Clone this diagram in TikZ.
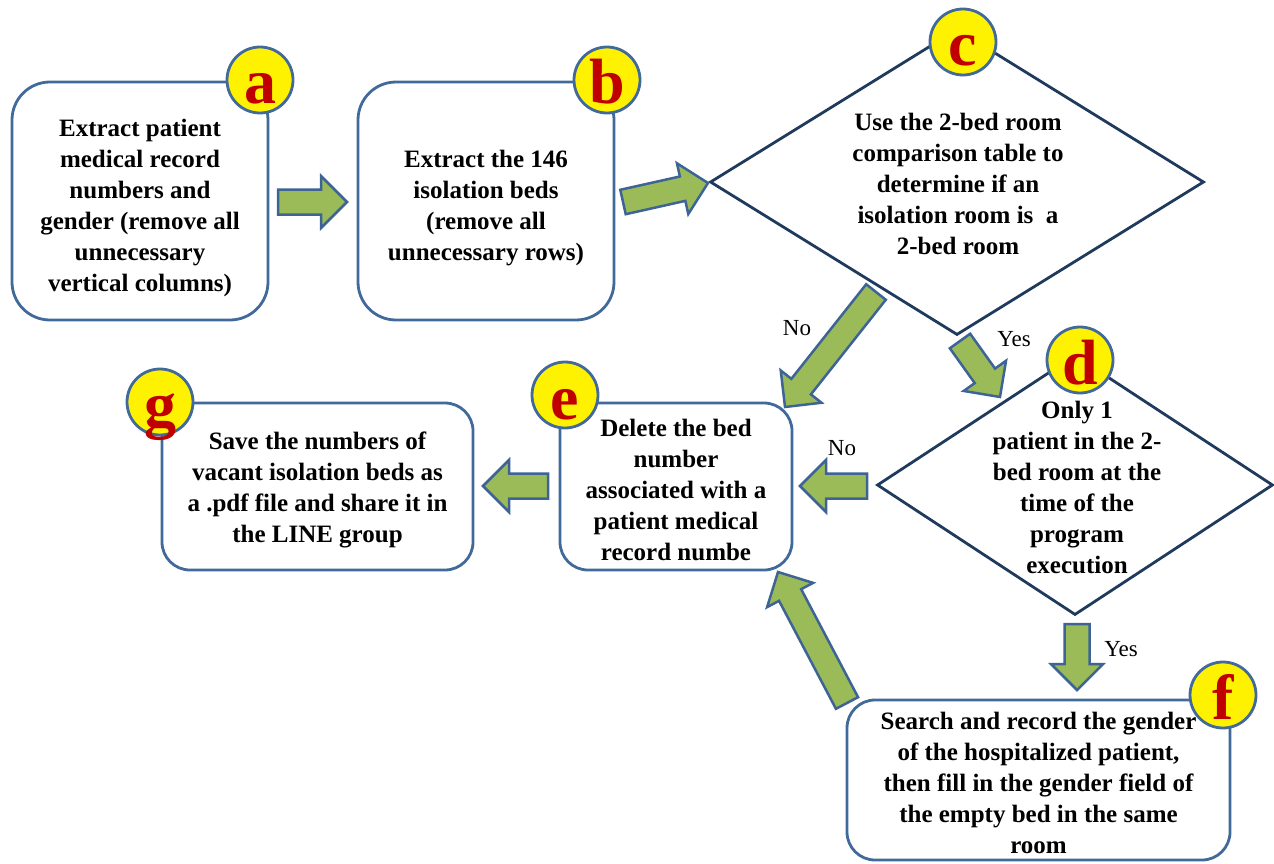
\documentclass[tikz,border=0pt]{standalone}
\usepackage{fontspec}
\setmainfont{Liberation Serif}
\usetikzlibrary{calc,shapes.geometric}

\definecolor{boxblue}{HTML}{41699A}
\definecolor{navy}{HTML}{1F3A5C}
\definecolor{arrowgreen}{HTML}{9BBB59}
\definecolor{arrowedge}{HTML}{3D6494}
\definecolor{badgered}{HTML}{C00000}

% Wide green block arrow from tail #1 to tip #2
\newcommand\blockarrow[2]{%
  \coordinate (ba-h) at ($(#2)!26pt!(#1)$);
  \draw[barrow]
    ($(#1)!12.5pt!90:(#2)$) -- ($(ba-h)!12.5pt!90:(#2)$) --
    ($(ba-h)!26pt!90:(#2)$) -- (#2) --
    ($(ba-h)!26pt!-90:(#2)$) -- ($(ba-h)!12.5pt!-90:(#2)$) --
    ($(#1)!12.5pt!-90:(#2)$) -- cycle;
}

\begin{document}
\begin{tikzpicture}[x=1pt,y=-1pt,
  txt/.style={align=center, inner sep=0pt, font=\bfseries\fontsize{25}{31}\selectfont},
  stepbox/.style={draw=boxblue, line width=2.8pt, fill=white, rounded corners=38pt, inner sep=0pt},
  smallbox/.style={stepbox, rounded corners=28pt},
  decision/.style={diamond, draw=navy, line width=2.8pt, fill=white, inner sep=0pt},
  badge/.style={circle, draw=boxblue, fill=yellow, line width=2.8pt, minimum size=66pt, inner sep=0pt},
  badgeletter/.style={anchor=base, inner sep=0pt, text=badgered, font=\bfseries\fontsize{64}{64}\selectfont},
  barrow/.style={draw=arrowedge, fill=arrowgreen, line width=2.5pt, line join=miter},
  answer/.style={inner sep=0pt, font=\fontsize{23}{27}\selectfont}]

\useasboundingbox (0,0) rectangle (1274,864);

% process boxes
\node[stepbox, minimum width=256pt, minimum height=238pt] (a) at (140,201) {};
\node[stepbox, minimum width=256pt, minimum height=238pt] (b) at (486,201) {};
\node[smallbox, minimum width=232pt, minimum height=167pt] (e) at (676,486.5) {};
\node[smallbox, minimum width=311pt, minimum height=167pt] (g) at (317.5,486.5) {};
\node[smallbox, minimum width=383pt, minimum height=160pt] (f) at (1038.5,780) {};

% box captions
\node[txt] (at) at ($(a.center)+(0,7)$)
  {Extract patient\\medical record\\numbers and\\gender (remove all\\unnecessary\\vertical columns)};
\node[txt] (bt) at ($(b.center)+(0,7)$)
  {Extract the 146\\isolation beds\\(remove all\\unnecessary rows)};
\node[txt] (et) at ($(e.center)+(0,3)$)
  {Delete the bed\\number\\associated with a\\patient medical\\record numbe};
\node[txt] (gt) at ($(g.center)+(0,3)$)
  {Save the numbers of\\vacant isolation beds as\\a .pdf file and share it in\\the LINE group};
\node[txt] (ft) at ($(f.center)+(0,3)$)
  {Search and record the gender\\of the hospitalized patient,\\then fill in the gender field of\\the empty bed in the same\\room};

% decisions
\node[decision, minimum width=494pt, minimum height=306pt] (c) at (957,182) {};
\node[txt] (ct) at (958,184)
  {Use the 2-bed room\\comparison table to\\determine if an\\isolation room is\ \ a\\2-bed room};
\node[decision, minimum width=396pt, minimum height=260pt] (d) at (1075,485) {};
\node[txt] (dt) at (1077,487)
  {Only 1\\patient in the 2-\\bed room at the\\time of the\\program\\execution};

% arrow end points
\coordinate (ab-t) at (278,202);  \coordinate (ab-p) at (347,202);
\coordinate (bc-t) at (623,202);  \coordinate (bc-p) at (708,183);
\coordinate (ce-t) at (876,292);  \coordinate (ce-p) at (785,407);
\coordinate (cd-t) at (960,341);  \coordinate (cd-p) at (1000,397);
\coordinate (de-t) at (867,486);  \coordinate (de-p) at (800,486);
\coordinate (eg-t) at (548,486);  \coordinate (eg-p) at (483,486);
\coordinate (df-t) at (1077,624); \coordinate (df-p) at (1077,690);
\coordinate (fe-t) at (847,703);  \coordinate (fe-p) at (778,572);

\blockarrow{ab-t}{ab-p}
\blockarrow{bc-t}{bc-p}
\blockarrow{ce-t}{ce-p}
\blockarrow{cd-t}{cd-p}
\blockarrow{de-t}{de-p}
\blockarrow{eg-t}{eg-p}
\blockarrow{df-t}{df-p}
\blockarrow{fe-t}{fe-p}

% branch labels
\node[answer] (no1) at (797,328) {No};
\node[answer] (yes1) at (1014,339) {Yes};
\node[answer] (no2) at (842,448) {No};
\node[answer] (yes2) at (1121,649) {Yes};

% step badges
\foreach \n/\x/\y in {a/260/80, b/607/80, c/963/42, d/1080/360, e/565/395, g/160/402, f/1223/695}{
  \node[badge] (badge-\n) at (\x,\y) {};
  \node[badgeletter] (letter-\n) at ($(badge-\n.center)+(0,24)$) {\n};
}
\end{tikzpicture}
\end{document}
